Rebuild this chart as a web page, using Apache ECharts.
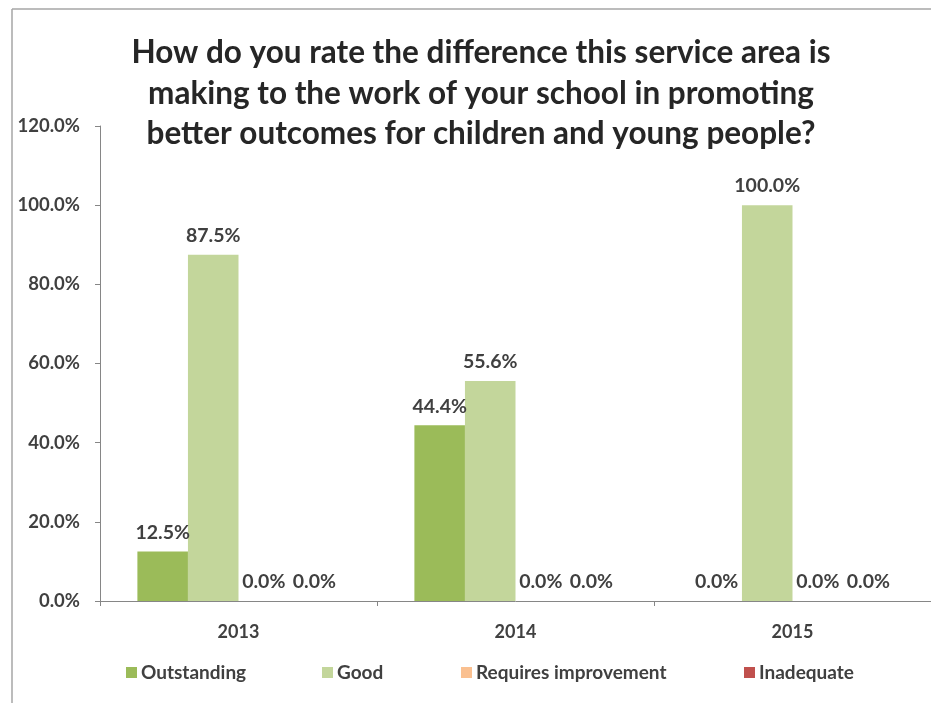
<!DOCTYPE html>
<html><head><meta charset="utf-8">
<script src="https://cdn.jsdelivr.net/npm/echarts@6/dist/echarts.min.js"></script>
<style>html,body{margin:0;padding:0;background:#fff}#c{width:931px;height:703px}</style>
</head><body><div id="c"></div>
<script>
const categories = ['2013', '2014', '2015'];
const outstanding = [12.5, 44.4, 0.0];
const good = [87.5, 55.6, 100.0];
const requiresImprovement = [0.0, 0.0, 0.0];
const inadequate = [0.0, 0.0, 0.0];
const seriesNames = ['Outstanding', 'Good', 'Requires improvement', 'Inadequate'];
const seriesColors = ['#9BBB59', '#C3D69B', '#FAC090', '#C0504D'];
const titleText = 'How do you rate the difference this service area is\nmaking to the work of your school in promoting\nbetter outcomes for children and young people?';

const FONT = 'Lato, "Open Sans", sans-serif';
const TXT = '#404040';
const dataArr = [outstanding, good, requiresImprovement, inadequate];
const legendLefts = [126, 322, 461, 744];

const chart = echarts.init(document.getElementById('c'), null, {renderer: 'canvas'});
chart.setOption({
  animation: false,
  backgroundColor: '#fff',
  title: {
    text: titleText, left: 476, top: 28, textAlign: 'center',
    textStyle: {fontFamily: FONT, fontWeight: 'bold', fontSize: 31.5, lineHeight: 40.5, color: '#262626'}
  },
  legend: seriesNames.map((n, i) => ({
    data: [n], left: legendLefts[i], top: 663, padding: 0, icon: 'rect', itemWidth: 11, itemHeight: 11, itemGap: 4,
    textStyle: {fontFamily: FONT, fontWeight: 'bold', fontSize: 19, color: TXT, padding: [0, 0, 0, -1]}
  })),
  grid: {left: 100, right: 0, top: 126, bottom: 102, containLabel: false},
  xAxis: {
    type: 'category', data: categories,
    axisLine: {lineStyle: {color: '#868686', width: 1}},
    axisTick: {show: true, length: 5, lineStyle: {color: '#868686'}},
    axisLabel: {fontFamily: FONT, fontWeight: 'bold', fontSize: 18, color: TXT, margin: 22}
  },
  yAxis: {
    type: 'value', min: 0, max: 120, interval: 20,
    axisLine: {show: true, lineStyle: {color: '#868686', width: 1}},
    axisTick: {show: true, inside: false, length: 5, lineStyle: {color: '#868686'}},
    splitLine: {show: false},
    axisLabel: {fontFamily: FONT, fontWeight: 'bold', fontSize: 18.5, color: TXT, margin: 20,
      formatter: v => v.toFixed(1) + '%'}
  },
  series: seriesNames.map((n, i) => ({
    name: n, type: 'bar', data: dataArr[i], barGap: '0%', barCategoryGap: '27%',
    itemStyle: {color: seriesColors[i]},
    label: {show: true, position: 'top', distance: 9, fontFamily: FONT, fontWeight: 'bold', fontSize: 19.5, color: TXT,
      formatter: p => p.value.toFixed(1) + '%'}
  })),
  graphic: [
    {type: 'line', shape: {x1: 12, y1: 9, x2: 931, y2: 9}, style: {stroke: '#A6A6A6', lineWidth: 1.5}},
    {type: 'line', shape: {x1: 12, y1: 9, x2: 12, y2: 703}, style: {stroke: '#A6A6A6', lineWidth: 1.5}}
  ]
});
</script></body></html>
